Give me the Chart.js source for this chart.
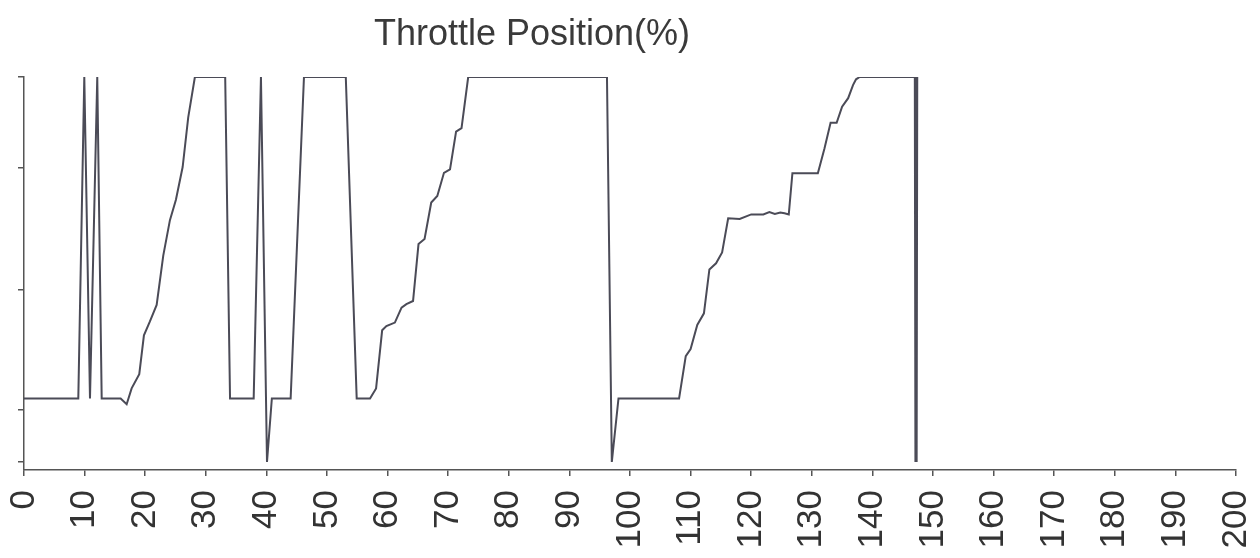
<!DOCTYPE html>
<html>
<head>
<meta charset="utf-8">
<script src="https://cdn.jsdelivr.net/npm/chart.js@4.4.1/dist/chart.umd.min.js"></script>
<style>
  html, body { margin: 0; padding: 0; background: #fff; }
  #wrap { position: relative; width: 1260px; height: 558px; }
  #title {
    position: absolute; top: 15px; left: 532px; transform: translateX(-50%);
    font: 36px/36px "Liberation Sans", Arial, sans-serif; color: #3a3a3a; white-space: nowrap;
  }
</style>
</head>
<body>
<div id="wrap">
  <canvas id="throttleChart" width="1260" height="558"></canvas>
  <div id="title">Throttle Position(%)</div>
</div>
<script>
// time (s) and throttle position (%)
const timeSec = [0, 8.96, 9.95, 10.89, 12.09, 12.82, 15.95, 16.94, 17.76, 19.02, 19.79, 20.78, 21.89, 22.98,
  24.08, 25.07, 26.18, 27.1, 28.2, 33.2, 34.0, 37.9, 39.1, 40.1, 40.9, 44.0, 46.2, 53.1, 54.9, 57.1,
  58.1, 59.1, 59.8, 61.2, 62.3, 63.1, 64.2, 65.1, 66.1, 67.2, 68.2, 69.3, 70.3, 71.3, 72.2, 73.3,
  96.2, 97.0, 98.1, 108.1, 109.2, 110.0, 111.1, 112.2, 113.1, 114.2, 115.2, 116.2, 118.1, 120.0,
  122.0, 123.0, 123.9, 124.8, 125.5, 126.2, 126.8, 131.0, 132.1, 133.1, 134.1, 135.0, 136.0, 136.8,
  137.3, 137.9, 147.0, 147.1, 147.2, 147.3, 147.4];
const throttlePct = [16.5, 16.5, 100, 16.5, 100, 16.5, 16.5, 15.0, 19.1, 22.8, 32.9, 36.5, 40.8, 53.6,
  62.8, 68.1, 76.6, 89.5, 100, 100, 16.5, 16.5, 100, 0, 16.5, 16.5, 100, 100, 16.5, 16.5,
  19.1, 34.2, 35.3, 36.2, 40.1, 41.0, 41.8, 56.6, 57.9, 67.4, 69.1, 75.1, 76.0, 85.8, 86.7, 100,
  100, 0, 16.5, 16.5, 27.5, 29.3, 35.6, 38.6, 50.0, 51.6, 54.4, 63.3, 63.1, 64.3,
  64.3, 64.9, 64.4, 64.8, 64.6, 64.3, 75.0, 75.0, 81.5, 88.1, 88.1, 92.3, 94.5, 97.9,
  99.4, 100, 100, 0, 100, 0, 100];
const xTicks = [0, 10, 20, 30, 40, 50, 60, 70, 80, 90, 100, 110, 120, 130, 140, 150, 160, 170, 180, 190, 200];
const yTicks = [0, 13.5, 44.7, 76.4, 100];

const points = timeSec.map((t, i) => ({ x: t, y: throttlePct[i] }));
const axisColor = '#555';

new Chart(document.getElementById('throttleChart').getContext('2d'), {
  type: 'line',
  data: {
    datasets: [{
      data: points,
      borderColor: '#4b4b57',
      borderWidth: 2,
      pointRadius: 0,
      tension: 0,
      fill: false
    }]
  },
  options: {
    responsive: false,
    animation: false,
    devicePixelRatio: 1,
    layout: { padding: { top: 77, right: 24, left: 0, bottom: 0 } },
    plugins: { legend: { display: false }, title: { display: false }, tooltip: { enabled: false } },
    scales: {
      x: {
        type: 'linear',
        min: 0,
        max: 200,
        afterBuildTicks: (axis) => { axis.ticks = xTicks.map(v => ({ value: v })); },
        afterFit: (axis) => {
          axis.height = 88;
          axis.paddingLeft = 0;
          axis.paddingRight = 0;
        },
        ticks: {
          minRotation: 90,
          maxRotation: 90,
          padding: 14,
          color: '#333',
          font: { family: '"Liberation Sans", Arial, sans-serif', size: 35 }
        },
        grid: { drawOnChartArea: false, drawTicks: true, tickLength: 6, color: axisColor, lineWidth: 1.5 },
        border: { display: true, color: axisColor, width: 1.5 }
      },
      y: {
        min: -2.1,
        max: 100,
        afterBuildTicks: (axis) => { axis.ticks = yTicks.map(v => ({ value: v })); },
        afterFit: (axis) => { axis.width = 24; },
        ticks: { display: false },
        grid: { drawOnChartArea: false, drawTicks: true, tickLength: 6, color: axisColor, lineWidth: 1.5 },
        border: { display: true, color: axisColor, width: 1.5 }
      }
    }
  }
});
</script>
</body>
</html>
